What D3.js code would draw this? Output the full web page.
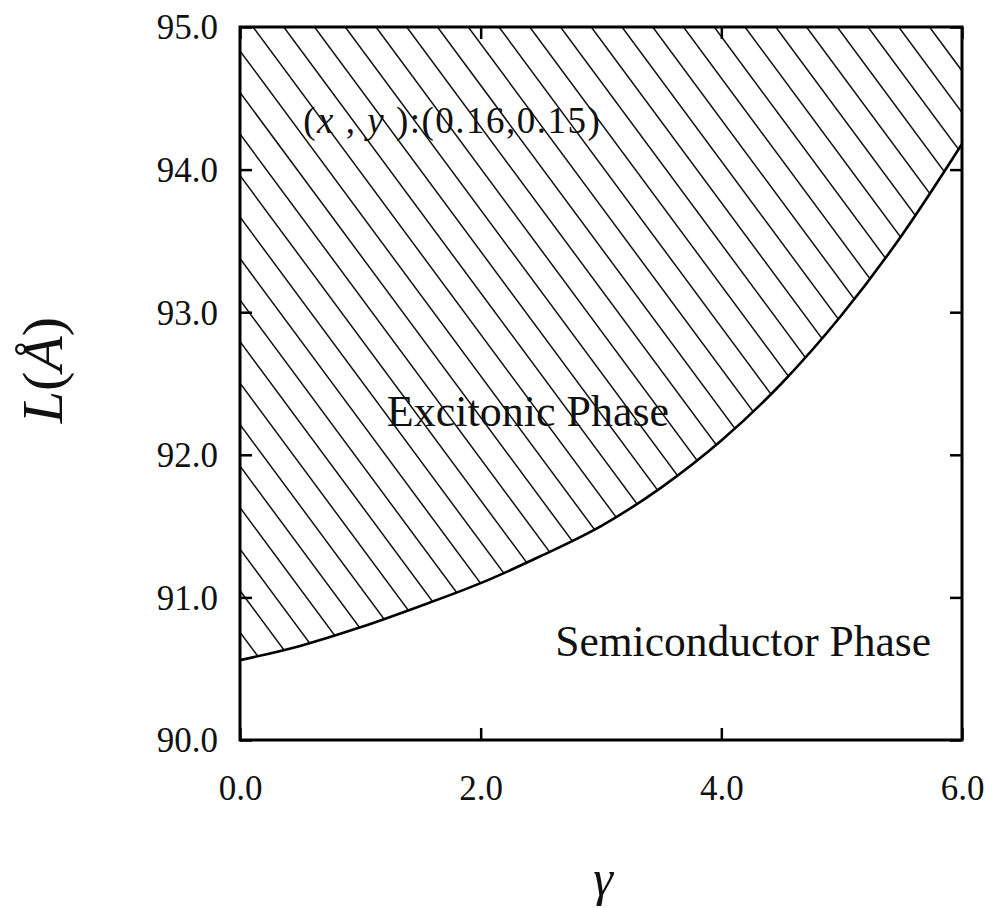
<!DOCTYPE html>
<html>
<head>
<meta charset="utf-8">
<script src="https://cdn.jsdelivr.net/npm/d3@7"></script>
<style>
  body { margin: 0; background: #fff; }
  svg { display: block; }
  .tick text { font-family: "Liberation Serif", "Times New Roman", serif; font-size: 35px; fill: #111; }
  .label { font-family: "Liberation Serif", "Times New Roman", serif; fill: #111; }
</style>
</head>
<body>
<svg id="chart" width="993" height="908"></svg>
<script>
// boundary between excitonic and semiconductor phase
var gammaVals = [0, 0.5, 1.0, 1.5, 2.0, 2.5, 3.0, 3.5, 4.0, 4.5, 5.0, 5.5, 6.0];
var lengthVals = [90.56, 90.66, 90.79, 90.94, 91.10, 91.29, 91.50, 91.77, 92.10, 92.50, 92.98, 93.54, 94.18];

var xTicks = [0, 2, 4, 6];
var yTicks = [90, 91, 92, 93, 94, 95];

var svg = d3.select('#chart');
var svgWidth = +svg.attr('width');
var svgHeight = +svg.attr('height');

var padding = {t: 27, r: 31, b: 168, l: 240};
var plotW = svgWidth - padding.l - padding.r;
var plotH = svgHeight - padding.t - padding.b;

var xScale = d3.scaleLinear().domain([0, 6]).range([0, plotW]);
var yScale = d3.scaleLinear().domain([90, 95]).range([plotH, 0]);

var chartG = svg.append('g')
    .attr('transform', 'translate(' + [padding.l, padding.t] + ')');

var boundary = gammaVals.map(function(g, i) { return {g: g, L: lengthVals[i]}; });

// hatched region: above the boundary curve
var area = d3.area()
    .x(function(d) { return xScale(d.g); })
    .y0(yScale(95))
    .y1(function(d) { return yScale(d.L); })
    .curve(d3.curveMonotoneX);

svg.append('defs').append('clipPath').attr('id', 'excitonClip')
    .append('path')
    .attr('d', area(boundary));

var hatchG = chartG.append('g').attr('clip-path', 'url(#excitonClip)');
var hatchSlope = 1.35;
var hatchStep = 30.75;
var hatchStarts = d3.range(13 - 30 * hatchStep, plotW + hatchStep, hatchStep);
hatchG.selectAll('line')
    .data(hatchStarts)
    .join('line')
    .attr('x1', function(d) { return d; })
    .attr('y1', 0)
    .attr('x2', function(d) { return d + plotH / hatchSlope; })
    .attr('y2', plotH)
    .attr('stroke', '#111')
    .attr('stroke-width', 1.5);

// boundary line
var line = d3.line()
    .x(function(d) { return xScale(d.g); })
    .y(function(d) { return yScale(d.L); })
    .curve(d3.curveMonotoneX);

chartG.append('path')
    .datum(boundary)
    .attr('d', line)
    .attr('fill', 'none')
    .attr('stroke', '#000')
    .attr('stroke-width', 2.6);

// axes, ticks pointing inwards
var fmt = d3.format('.1f');
var xG = chartG.append('g').attr('class', 'xaxis')
    .attr('transform', 'translate(0,' + plotH + ')')
    .call(d3.axisBottom(xScale).tickValues(xTicks).tickFormat(fmt)
        .tickSizeInner(-12).tickSizeOuter(0).tickPadding(35));
var yG = chartG.append('g').attr('class', 'yaxis')
    .call(d3.axisLeft(yScale).tickValues(yTicks).tickFormat(fmt)
        .tickSizeInner(-12).tickSizeOuter(0).tickPadding(22));
var topG = chartG.append('g')
    .call(d3.axisTop(xScale).tickValues(xTicks).tickFormat('')
        .tickSizeInner(-12).tickSizeOuter(0));
var rightG = chartG.append('g')
    .attr('transform', 'translate(' + plotW + ',0)')
    .call(d3.axisRight(yScale).tickValues(yTicks).tickFormat('')
        .tickSizeInner(-12).tickSizeOuter(0));

chartG.selectAll('.domain').remove();
chartG.selectAll('.tick line').attr('stroke', '#000').attr('stroke-width', 2.5);
yG.selectAll('.tick text').attr('dy', '0.34em');

chartG.append('rect')
    .attr('width', plotW)
    .attr('height', plotH)
    .attr('fill', 'none')
    .attr('stroke', '#000')
    .attr('stroke-width', 3);

// labels inside the plot
chartG.append('text')
    .attr('class', 'label')
    .attr('x', xScale(1.22))
    .attr('y', yScale(92.2))
    .attr('font-size', 44)
    .text('Excitonic Phase');

chartG.append('text')
    .attr('class', 'label')
    .attr('x', xScale(2.62))
    .attr('y', yScale(90.59))
    .attr('font-size', 43.5)
    .text('Semiconductor Phase');

var param = chartG.append('text')
    .attr('class', 'label')
    .attr('x', xScale(0.525))
    .attr('y', yScale(94.26))
    .attr('font-size', 37)
    .attr('letter-spacing', 1.5);
param.append('tspan').text('(');
param.append('tspan').attr('font-style', 'italic').text('x');
param.append('tspan').text(' , ');
param.append('tspan').attr('font-style', 'italic').text('y');
param.append('tspan').text(' ):(0.16,0.15)');

// axis titles
svg.append('text')
    .attr('class', 'label')
    .attr('text-anchor', 'middle')
    .attr('font-size', 50)
    .attr('font-style', 'italic')
    .attr('transform', 'translate(603,895)')
    .text('γ');

var yTitle = svg.append('text')
    .attr('class', 'label')
    .attr('text-anchor', 'middle')
    .attr('font-size', 58)
    .attr('transform', 'translate(62,370) rotate(-90)');
yTitle.append('tspan').attr('font-style', 'italic').text('L');
yTitle.append('tspan').text('(');
yTitle.append('tspan').attr('font-style', 'italic').text('Å');
yTitle.append('tspan').text(')');
</script>
</body>
</html>
